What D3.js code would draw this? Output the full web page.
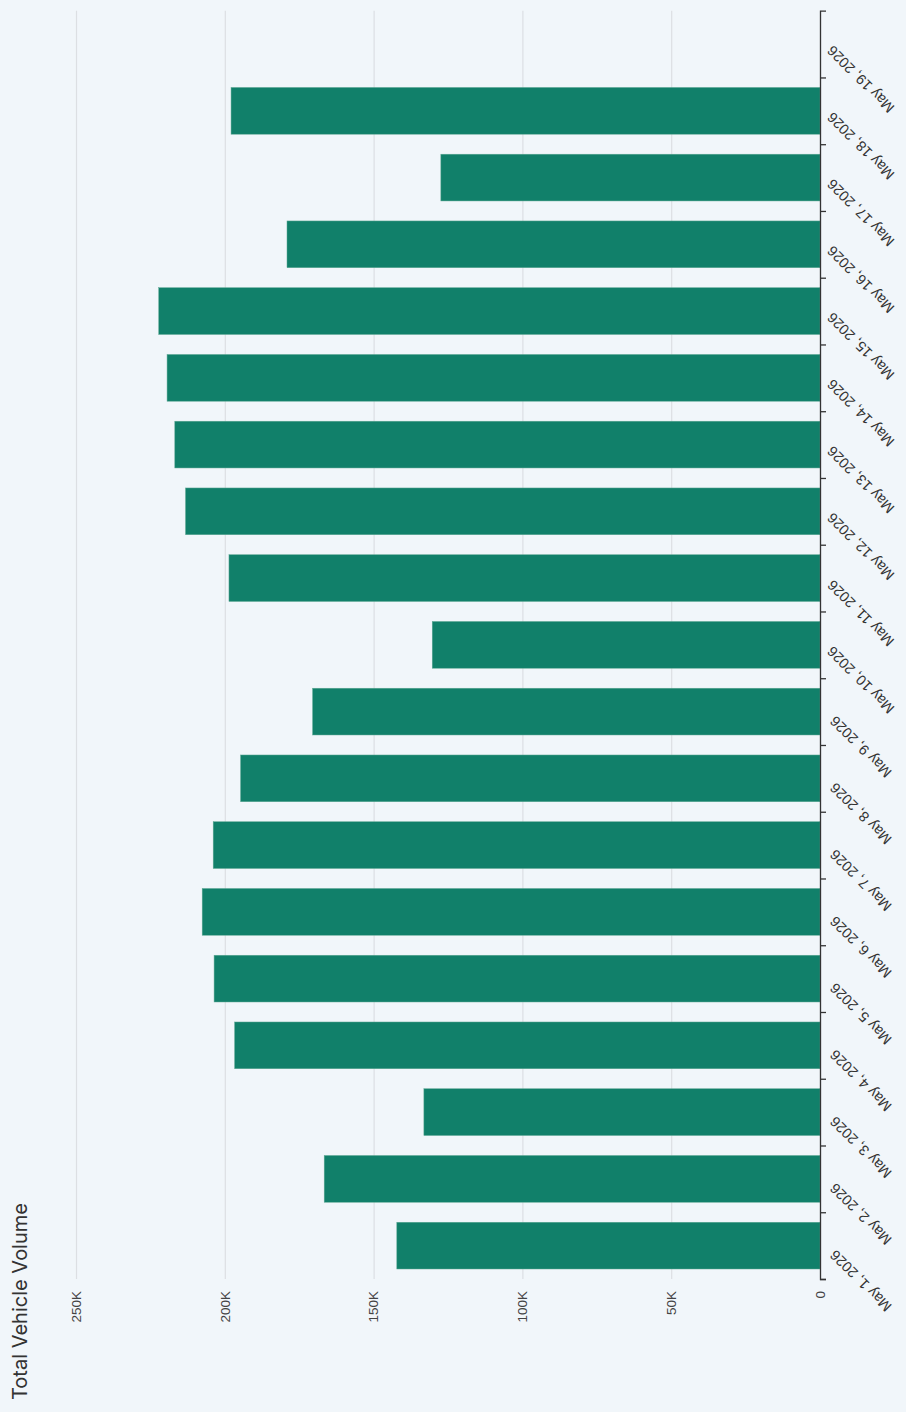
<!DOCTYPE html>
<html>
<head>
<meta charset="utf-8">
<script src="https://cdn.jsdelivr.net/npm/d3@7"></script>
<style>
  html, body { margin: 0; padding: 0; background: #f1f6fa; }
  svg { display: block; font-family: Inter, "Noto Sans", sans-serif; }
</style>
</head>
<body>
<div id="chart"></div>
<script>
(() => {
    const width = 906;
    const height = 1412;

    // daily totals, May 1 .. May 18 (May 19 has no bar yet)
    const days = ["2026-05-01", "2026-05-02", "2026-05-03", "2026-05-04", "2026-05-05", "2026-05-06",
        "2026-05-07", "2026-05-08", "2026-05-09", "2026-05-10", "2026-05-11", "2026-05-12",
        "2026-05-13", "2026-05-14", "2026-05-15", "2026-05-16", "2026-05-17", "2026-05-18"];
    const volumes = [142200, 166600, 133100, 196700, 203600, 207600, 203900, 194700, 170500,
        130300, 198600, 213200, 216800, 219400, 222200, 179100, 127400, 197900];
    const domainDays = ["2026-05-01", "2026-05-20"];
    const valueTicks = [0, 50000, 100000, 150000, 200000, 250000];

    const parse = d3.utcParse("%Y-%m-%d");
    const fmt = d3.utcFormat("%b %-d, %Y");
    const data = days.map((d, i) => ({ date: parse(d), value: volumes[i] }));

    const axisX = 820;      // value zero line
    const top = 10.7;
    const bottom = 1279;

    const svg = d3.select("#chart")
        .append("svg")
        .attr("width", width)
        .attr("height", height);

    svg.append("rect")
        .attr("width", width)
        .attr("height", height)
        .attr("fill", "#f1f6fa");

    // chart is drawn turned on its side: dates run bottom -> top, values right -> left
    const yScale = d3.scaleUtc()
        .domain(domainDays.map(parse))
        .range([bottom, top]);

    const xScale = d3.scaleLinear()
        .domain([0, 250000])
        .range([axisX, 76]);

    // value grid + labels
    const grid = svg.append("g")
        .attr("transform", `translate(0, ${bottom})`)
        .call(d3.axisBottom(xScale)
            .tickValues(valueTicks)
            .tickSize(-(bottom - top))
            .tickFormat(d => d === 0 ? "0" : d / 1000 + "K"));

    grid.select(".domain").remove();
    grid.selectAll(".tick line")
        .attr("stroke", "#dcdfe3")
        .attr("stroke-width", 1.2);
    grid.selectAll(".tick text")
        .attr("x", 0)
        .attr("y", 0)
        .attr("dy", "0.32em")
        .attr("transform", "translate(0, 12) rotate(-90)")
        .attr("text-anchor", "end")
        .attr("fill", "#444")
        .style("font-size", "13.5px");

    // bars
    svg.append("g")
        .selectAll("rect")
        .data(data)
        .join("rect")
        .attr("x", d => xScale(d.value))
        .attr("y", d => yScale(d3.utcDay.offset(d.date, 1)) + 10)
        .attr("width", d => axisX - xScale(d.value))
        .attr("height", d => yScale(d.date) - yScale(d3.utcDay.offset(d.date, 1)) - 20)
        .attr("fill", "#11806a")
        .attr("stroke", "#5fa894")
        .attr("stroke-width", 0.5);

    // date axis
    const dateAxis = svg.append("g")
        .attr("transform", `translate(${axisX}, 0)`)
        .call(d3.axisRight(yScale)
            .tickValues(d3.utcDay.range(parse(domainDays[0]), parse(domainDays[1])))
            .tickSize(6)
            .tickSizeOuter(6)
            .tickFormat(fmt));

    dateAxis.select(".domain")
        .attr("stroke", "#333")
        .attr("stroke-width", 1.3);
    dateAxis.selectAll(".tick line")
        .attr("stroke", "#333")
        .attr("stroke-width", 1.3);
    dateAxis.selectAll(".tick text")
        .attr("x", 0)
        .attr("dy", "0.32em")
        .attr("transform", "translate(41, 1) rotate(-135)")
        .attr("text-anchor", "middle")
        .attr("fill", "#333")
        .style("font-size", "14.5px");

    // axis title
    svg.append("text")
        .attr("transform", "translate(27, 1400) rotate(-90)")
        .attr("text-anchor", "start")
        .attr("fill", "#333")
        .style("font-size", "20px")
        .text("Total Vehicle Volume");
})();
</script>
</body>
</html>
